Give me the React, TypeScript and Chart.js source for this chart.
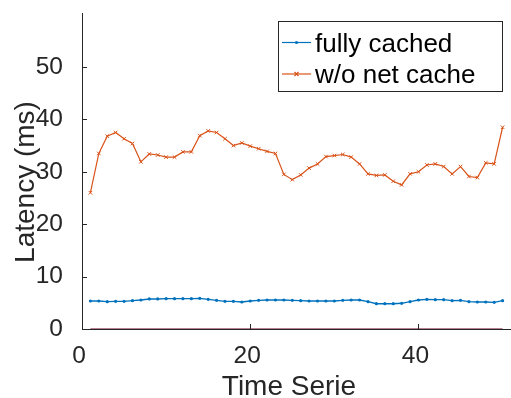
import React, { useEffect, useRef } from 'react';
import { Chart, registerables } from 'chart.js';

Chart.register(...registerables);

// Time steps (x)
const timeSteps = [
  1, 2, 3, 4, 5, 6, 7, 8, 9, 10, 11, 12, 13, 14, 15, 16, 17, 18, 19, 20, 21, 22, 23, 24, 25,
  26, 27, 28, 29, 30, 31, 32, 33, 34, 35, 36, 37, 38, 39, 40, 41, 42, 43, 44, 45, 46, 47, 48, 49, 50,
];

// Latency with everything cached (ms)
const fullyCached = [
  5.34, 5.34, 5.22, 5.28, 5.28, 5.41, 5.53, 5.73, 5.73, 5.79, 5.79, 5.79, 5.79, 5.85, 5.66, 5.47, 5.28,
  5.28, 5.15, 5.34, 5.47, 5.53, 5.53, 5.53, 5.47, 5.41, 5.34, 5.34, 5.34, 5.34, 5.47, 5.53, 5.53, 5.22,
  4.83, 4.83, 4.83, 4.9, 5.22, 5.53, 5.66, 5.6, 5.6, 5.41, 5.47, 5.22, 5.15, 5.15, 5.09, 5.41,
];

// Latency without the network cache (ms)
const noNetCache = [
  26.0, 33.5, 36.8, 37.5, 36.3, 35.4, 31.9, 33.4, 33.2, 32.8, 32.8, 33.8, 33.8, 36.9, 37.8, 37.5, 36.3,
  35.0, 35.5, 34.9, 34.4, 33.9, 33.5, 29.5, 28.5, 29.4, 30.7, 31.5, 32.9, 33.1, 33.3, 32.8, 31.5, 29.6,
  29.3, 29.4, 28.2, 27.5, 29.6, 30.0, 31.3, 31.5, 31.0, 29.6, 31.0, 29.1, 28.9, 31.7, 31.5, 38.5,
];

// Reference series lying on the x axis
const zeroSeries = [
  0, 0, 0, 0, 0, 0, 0, 0, 0, 0, 0, 0, 0, 0, 0, 0, 0, 0, 0, 0, 0, 0, 0, 0, 0,
  0, 0, 0, 0, 0, 0, 0, 0, 0, 0, 0, 0, 0, 0, 0, 0, 0, 0, 0, 0, 0, 0, 0, 0, 0,
];

const legendLabels = ['fully cached', 'w/o net cache'];
const xTicks = [0, 20, 40];
const yTicks = [0, 10, 20, 30, 40, 50];
const xTitle = 'Time Serie';
const yTitle = 'Latency (ms)';

const AXIS = '#262626';
const BLUE = '#0072BD';
const ORANGE = '#D95319';
const FONT = "'Liberation Sans', Arial, Helvetica, sans-serif";

function toPoints(ys: number[]) {
  return timeSteps.map((x, i) => ({ x, y: ys[i] }));
}

// Let the plot area run right up to the canvas' right edge
const pinArea = {
  id: 'pinArea',
  afterLayout(chart: any) {
    const area = chart.chartArea;
    const right = chart.width;
    if (Math.abs(area.right - right) > 0.01) {
      area.right = right;
      area.width = right - area.left;
      const xs = chart.scales.x;
      xs.right = right;
      xs.width = right - xs.left;
      xs.configure();
    }
  },
};

// Inward tick marks, axis titles and the boxed legend
const decorations = {
  id: 'decorations',
  afterDraw(chart: any) {
    const { ctx, chartArea, scales } = chart;
    const xs = scales.x;
    const ys = scales.y;
    ctx.save();
    ctx.strokeStyle = AXIS;
    ctx.lineWidth = 1;
    ctx.beginPath();
    yTicks.forEach((v) => {
      const py = Math.round(ys.getPixelForValue(v)) + 0.5;
      ctx.moveTo(chartArea.left, py);
      ctx.lineTo(chartArea.left + 5, py);
    });
    xTicks.forEach((v) => {
      const px = Math.round(xs.getPixelForValue(v)) + 0.5;
      ctx.moveTo(px, chartArea.bottom);
      ctx.lineTo(px, chartArea.bottom - 5);
    });
    ctx.stroke();

    // x-axis title
    ctx.fillStyle = AXIS;
    ctx.font = `28px ${FONT}`;
    ctx.textAlign = 'center';
    ctx.textBaseline = 'alphabetic';
    ctx.fillText(xTitle, 289, 395);

    // y-axis title
    ctx.textBaseline = 'middle';
    ctx.translate(26, 182);
    ctx.rotate(-Math.PI / 2);
    ctx.fillText(yTitle, 0, 0);
    ctx.restore();

    // legend box
    ctx.save();
    const bx = 278.5, by = 21.5, bw = 224, bh = 70;
    ctx.fillStyle = '#ffffff';
    ctx.fillRect(bx, by, bw, bh);
    ctx.strokeStyle = AXIS;
    ctx.lineWidth = 1;
    ctx.strokeRect(bx, by, bw, bh);
    const rows = [
      { y: 42.5, color: BLUE, label: legendLabels[0], marker: 'dot' },
      { y: 74, color: ORANGE, label: legendLabels[1], marker: 'x' },
    ];
    rows.forEach((r) => {
      ctx.strokeStyle = r.color;
      ctx.fillStyle = r.color;
      ctx.lineWidth = 1.2;
      ctx.beginPath();
      ctx.moveTo(282, r.y);
      ctx.lineTo(311, r.y);
      ctx.stroke();
      if (r.marker === 'dot') {
        ctx.beginPath();
        ctx.arc(296.5, r.y, 1.6, 0, Math.PI * 2);
        ctx.fill();
      } else {
        ctx.beginPath();
        ctx.moveTo(294.5, r.y - 2);
        ctx.lineTo(298.5, r.y + 2);
        ctx.moveTo(294.5, r.y + 2);
        ctx.lineTo(298.5, r.y - 2);
        ctx.stroke();
      }
      ctx.fillStyle = '#000000';
      ctx.font = `26px ${FONT}`;
      ctx.textAlign = 'left';
      ctx.textBaseline = 'alphabetic';
      ctx.fillText(r.label, 315, r.y + 9);
    });
    ctx.restore();
  },
};

export default function App() {
  const canvasRef = useRef<HTMLCanvasElement | null>(null);

  useEffect(() => {
    if (!canvasRef.current) return;
    const chart = new Chart(canvasRef.current, {
      type: 'line',
      data: {
        datasets: [
          {
            label: legendLabels[0],
            data: toPoints(fullyCached),
            borderColor: BLUE,
            backgroundColor: BLUE,
            borderWidth: 1.4,
            pointStyle: 'circle',
            pointRadius: 1.6,
            pointBorderWidth: 0,
            tension: 0,
          },
          {
            label: legendLabels[1],
            data: toPoints(noNetCache),
            borderColor: ORANGE,
            backgroundColor: ORANGE,
            borderWidth: 1.2,
            pointStyle: 'crossRot',
            pointRadius: 2.5,
            pointBorderWidth: 1,
            tension: 0,
          },
          {
            label: 'zero',
            data: toPoints(zeroSeries),
            borderColor: '#A2576E',
            borderWidth: 1.5,
            pointRadius: 0,
            tension: 0,
          },
        ],
      },
      options: {
        responsive: false,
        animation: false,
        layout: { padding: { top: 13, right: 0, left: 0, bottom: 0 } },
        plugins: {
          legend: { display: false },
          tooltip: { enabled: false },
          title: { display: false },
        },
        scales: {
          x: {
            type: 'linear',
            min: 0,
            max: 51,
            grid: { display: false },
            border: { display: true, color: AXIS, width: 1 },
            afterFit: (s: any) => {
              s.height = 69;
              s.paddingLeft = 0;
              s.paddingRight = 0;
            },
            afterBuildTicks: (s: any) => {
              s.ticks = xTicks.map((v) => ({ value: v }));
            },
            ticks: {
              color: AXIS,
              padding: 5,
              labelOffset: -3,
              maxRotation: 0,
              font: { family: FONT, size: 24.5 },
            },
            title: { display: false },
          },
          y: {
            type: 'linear',
            min: 0,
            max: 60.3,
            grid: { display: false },
            border: { display: true, color: AXIS, width: 1 },
            afterFit: (s: any) => {
              s.width = 82;
              s.paddingTop = 0;
              s.paddingBottom = 0;
            },
            afterBuildTicks: (s: any) => {
              s.ticks = yTicks.map((v) => ({ value: v }));
            },
            ticks: {
              color: AXIS,
              padding: 11,
              font: { family: FONT, size: 24.5 },
            },
          },
        },
      },
      plugins: [pinArea, decorations],
    });
    return () => chart.destroy();
  }, []);

  return (
    <div style={{ position: 'absolute', left: 0, top: 0, width: 511, height: 398, background: '#fff' }}>
      <canvas ref={canvasRef} width={511} height={398} style={{ display: 'block' }} />
    </div>
  );
}
